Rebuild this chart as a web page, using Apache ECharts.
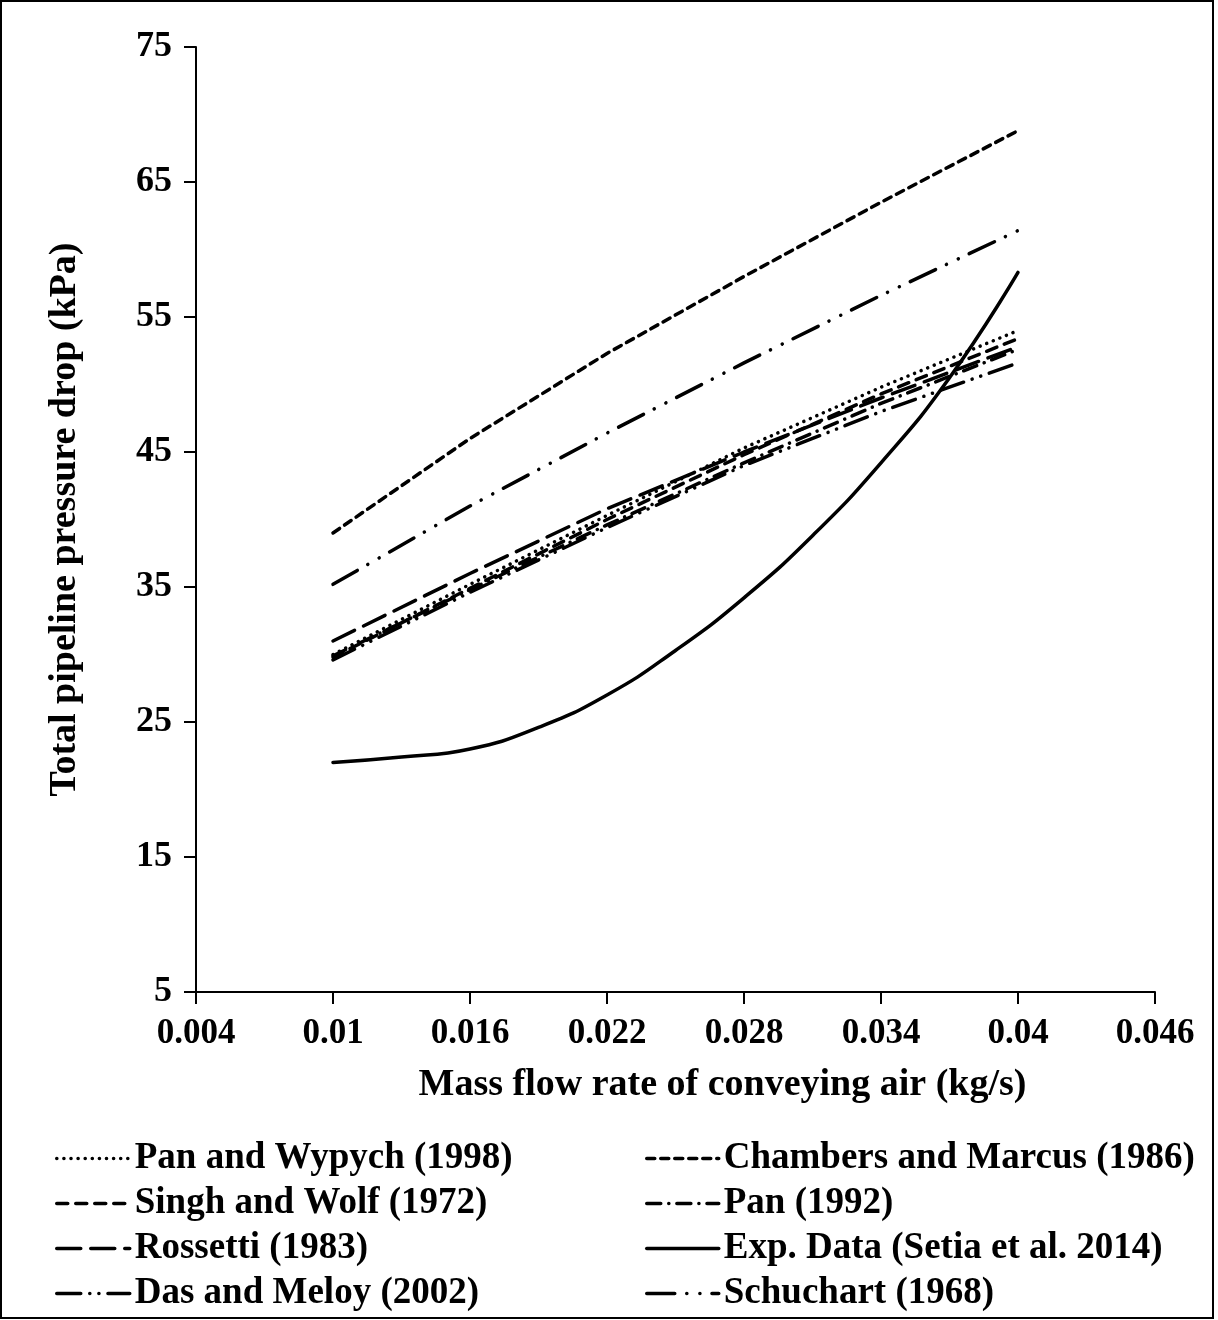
<!DOCTYPE html>
<html>
<head>
<meta charset="utf-8">
<script src="https://cdn.jsdelivr.net/npm/echarts@6/dist/echarts.min.js"></script>
<style>
    html, body { margin: 0; padding: 0; background: #fff; }
    #main { width: 1218px; height: 1320px; }
</style>
</head>
<body>
<div id="main"></div>
<script>
// x values (kg/s)
var xModel = [0.01, 0.016, 0.022, 0.028, 0.034, 0.04];
var xExp = [0.01, 0.013, 0.016, 0.019, 0.022, 0.025, 0.028, 0.031, 0.034, 0.037, 0.04];

// pressure drop (kPa)
var panWypych = [30.0, 35.2, 40.3, 45.3, 49.8, 54.0];
var singhWolf = [29.8, 34.9, 40.0, 44.8, 49.3, 53.4];
var rossetti = [31.0, 36.0, 40.8, 45.0, 49.0, 52.8];
var dasMeloy = [29.6, 34.6, 39.4, 44.0, 48.0, 51.6];
var chambersMarcus = [39.0, 46.0, 52.3, 58.0, 63.5, 68.8];
var pan1992 = [29.9, 34.8, 39.6, 44.2, 48.6, 52.6];
var expData = [22.0, 22.4, 23.0, 24.6, 27.0, 30.3, 34.2, 38.8, 44.2, 50.5, 58.3];
var schuchart = [35.2, 41.0, 46.4, 51.6, 56.6, 61.4];

var leftNames = ["Pan and Wypych (1998)", "Singh and Wolf (1972)", "Rossetti (1983)", "Das and Meloy (2002)"];
var rightNames = ["Chambers and Marcus (1986)", "Pan (1992)", "Exp. Data (Setia et al. 2014)", "Schuchart (1968)"];

var sFont = "'Liberation Serif', 'Times New Roman', serif";

function pairs(xs, ys) {
    var out = [];
    for (var i = 0; i < xs.length; i++) out.push([xs[i], ys[i]]);
    return out;
}

function lineSeries(name, xs, ys, dash, smooth) {
    return {
        name: name,
        type: "line",
        data: pairs(xs, ys),
        symbol: "none",
        smooth: smooth || false,
        lineStyle: { color: "#000", width: 3.5, type: dash, cap: "round" },
        itemStyle: { color: "#000" }
    };
}

var myChart = echarts.init(document.getElementById("main"), null, { renderer: "canvas" });

var legendText = { fontFamily: sFont, fontWeight: "bold", fontSize: 37, color: "#000", lineHeight: 37 };

var option = {
    backgroundColor: "#fff",
    animation: false,
    grid: { left: 196, right: 63, top: 47, bottom: 328 },
    xAxis: {
        type: "value",
        min: 0.004,
        max: 0.046,
        interval: 0.006,
        name: "Mass flow rate of conveying air (kg/s)",
        nameLocation: "middle",
        nameGap: 74,
        nameTextStyle: { fontFamily: sFont, fontWeight: "bold", fontSize: 38, color: "#000", padding: [0, 0, 0, 94] },
        axisLine: { lineStyle: { color: "#000", width: 2 } },
        axisTick: { length: 12, lineStyle: { color: "#000", width: 2 } },
        axisLabel: {
            fontFamily: sFont, fontWeight: "bold", fontSize: 35, color: "#000", margin: 24,
            formatter: function (v) { return String(+v.toFixed(3)); }
        },
        splitLine: { show: false }
    },
    yAxis: {
        type: "value",
        min: 5,
        max: 75,
        interval: 10,
        name: "Total pipeline pressure drop (kPa)",
        nameLocation: "middle",
        nameGap: 112,
        nameTextStyle: { fontFamily: sFont, fontWeight: "bold", fontSize: 38, color: "#000" },
        axisLine: { lineStyle: { color: "#000", width: 2 } },
        axisTick: { length: 12, lineStyle: { color: "#000", width: 2 } },
        axisLabel: { fontFamily: sFont, fontWeight: "bold", fontSize: 36, color: "#000", margin: 24 },
        splitLine: { show: false }
    },
    legend: [{
        data: leftNames,
        orient: "vertical",
        left: 50,
        top: 1135,
        itemWidth: 73,
        itemHeight: 37,
        itemGap: 8,
        itemStyle: { opacity: 0 },
        lineStyle: { width: 3.5 },
        textStyle: legendText
    }, {
        data: rightNames,
        orient: "vertical",
        left: 640,
        top: 1135,
        itemWidth: 72,
        itemHeight: 37,
        itemGap: 8,
        itemStyle: { opacity: 0 },
        lineStyle: { width: 3.5 },
        textStyle: legendText
    }],
    graphic: [{
        type: "rect",
        shape: { x: 1, y: 1, width: 1212, height: 1317 },
        style: { fill: null, stroke: "#000", lineWidth: 2 },
        silent: true
    }],
    series: [
        lineSeries(leftNames[0], xModel, panWypych, [0.1, 7]),
        lineSeries(leftNames[1], xModel, singhWolf, [11, 8]),
        lineSeries(leftNames[2], xModel, rossetti, [24, 10]),
        lineSeries(leftNames[3], xModel, dasMeloy, [24, 9, 0.1, 9, 0.1, 9]),
        lineSeries(rightNames[0], xModel, chambersMarcus, [8, 6]),
        lineSeries(rightNames[1], xModel, pan1992, [14, 8, 0.1, 8]),
        lineSeries(rightNames[2], xExp, expData, "solid", true),
        lineSeries(rightNames[3], xModel, schuchart, [28, 12, 0.1, 13, 0.1, 12])
    ]
};

myChart.setOption(option);
</script>
</body>
</html>
